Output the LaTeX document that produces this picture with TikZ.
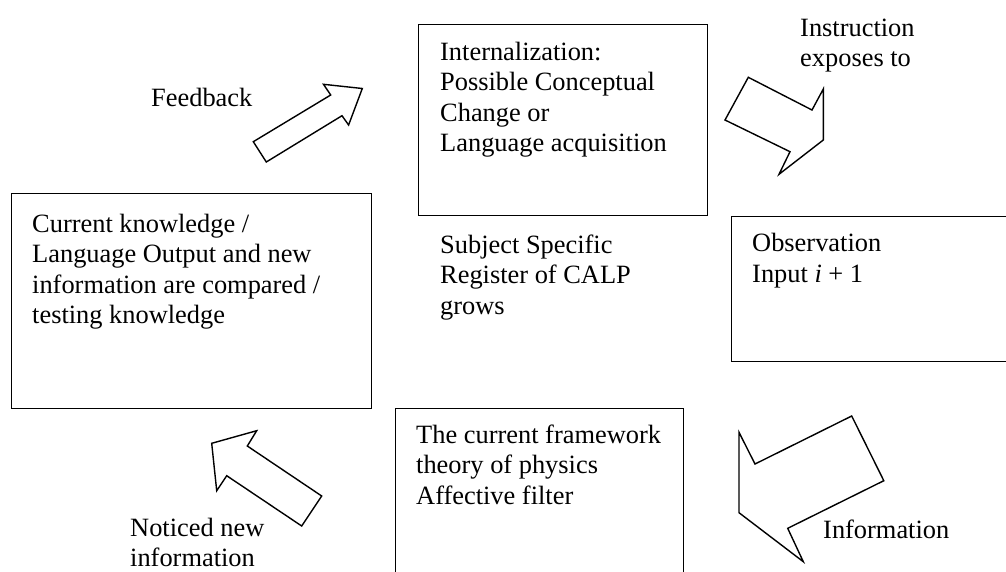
\documentclass[tikz,border=0pt]{standalone}
\usepackage{fontspec}
\setmainfont{Liberation Serif}
\begin{document}
\begin{tikzpicture}[x=1pt,y=-1pt,
  box/.style={draw,line width=1.4pt,inner sep=0pt,anchor=north west},
  txt/.style={font=\fontsize{26.4}{30.5}\selectfont,anchor=north west,inner sep=0pt,align=left},
  blockarrow/.style={draw,line width=1.4pt,line join=miter,fill=white}]
\useasboundingbox (0,0) rectangle (1006,571);
\clip (0,0) rectangle (1006,571);

% frames
\node[box,minimum width=289pt,minimum height=191pt] (intern) at (418,24) {};
\node[box,minimum width=360pt,minimum height=215pt] (compare) at (11,193) {};
\node[box,minimum width=300pt,minimum height=145pt] (observe) at (731,216) {};
\node[box,minimum width=288pt,minimum height=200pt] (framework) at (395,408) {};

% texts inside the frames
\node[txt] (intern-t) at (440,38.65) {\strut Internalization:\\Possible Conceptual\\Change or\\Language acquisition};
\node[txt] (compare-t) at (32,210.65) {\strut Current knowledge /\\Language Output and new\\information are compared /\\testing knowledge};
\node[txt] (observe-t) at (752,230.35) {\strut Observation\\Input \textit{i} + 1};
\node[txt] (framework-t) at (416,421.65) {\strut The current framework\\theory of physics\\Affective filter};

% free labels
\node[txt] (centre-t) at (440,231.65) {\strut Subject Specific\\Register of CALP\\grows};
\node[txt] (instr-t) at (800,14.65) {\strut Instruction\\exposes to};
\node[txt] (feedback-t) at (151,84.65) {\strut Feedback};
\node[txt] (info-t) at (823,516.65) {\strut Information};
\node[txt] (noticed-t) at (130,514.65) {\strut Noticed new\\information};

% block arrows
\draw[blockarrow] (253.3,141.7) -- (330.7,95) -- (323.5,84.3) -- (362.3,88.5)
  -- (348.6,125) -- (342,115.7) -- (266.3,162) -- cycle;
\draw[blockarrow] (748.3,77.3) -- (812,110) -- (823.3,89) -- (823.3,140)
  -- (779,174.3) -- (790,151.7) -- (725,120) -- cycle;
\draw[blockarrow] (851.7,416) -- (883.8,480.7) -- (787.7,528.3) -- (803.3,561.7)
  -- (739,512.7) -- (739,432.3) -- (755,464) -- cycle;
\draw[blockarrow] (256.7,430.7) -- (247.3,446) -- (321.7,496) -- (301.7,526)
  -- (226.7,475.7) -- (216.7,490.7) -- (211.7,443.3) -- cycle;
\end{tikzpicture}
\end{document}
